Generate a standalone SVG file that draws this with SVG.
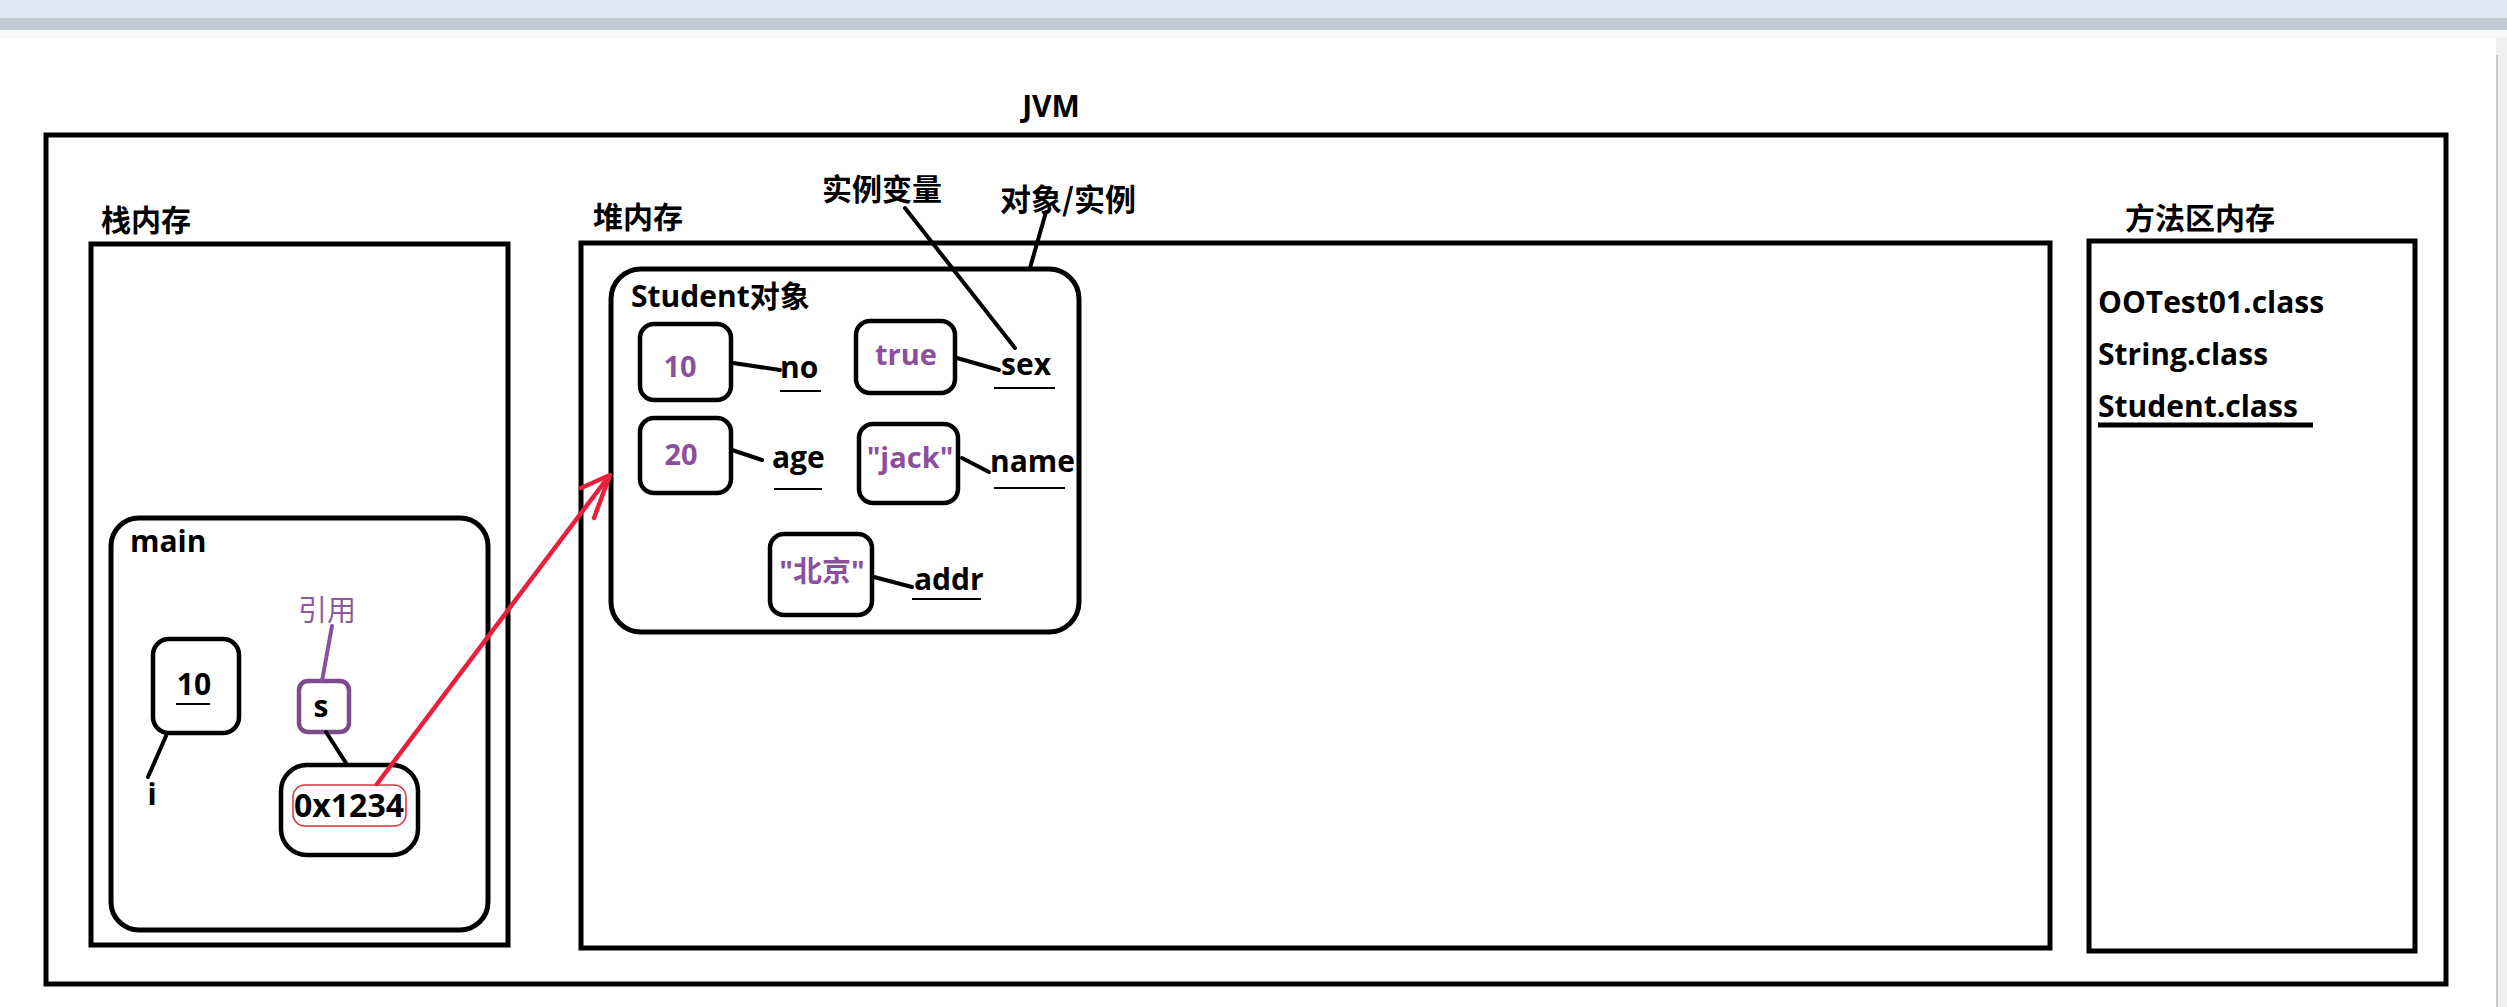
<svg xmlns="http://www.w3.org/2000/svg" width="2507" height="1007" viewBox="0 0 2507 1007">
<style>
.box{fill:none;stroke:#000;stroke-width:5}
.fld{fill:#fff;stroke:#000;stroke-width:4.5}
.t{font-family:"Open Sans","Noto Sans CJK SC",sans-serif;font-weight:bold;font-size:30px;fill:#000}
.cjk{font-family:"Noto Sans CJK SC",sans-serif;font-weight:bold;font-size:30px;fill:#000}
.pv{font-family:"Open Sans","Noto Sans CJK SC",sans-serif;font-weight:bold;font-size:29px;fill:#8b4f9e}
.ln{stroke:#000;stroke-width:4;fill:none;stroke-linecap:round}
.ul{stroke:#000;stroke-width:2;fill:none}
</style>
<rect x="0" y="0" width="2507" height="1007" fill="#fff"/>
<g id="toolbar">
<rect x="0" y="0" width="2507" height="18" fill="#dce6f4"/>
<rect x="0" y="18" width="2507" height="12" fill="#c3c9d2"/>
<rect x="0" y="30" width="2507" height="8" fill="#f6f7f9"/>
<rect x="2496" y="38" width="11" height="969" fill="#f0f0f0"/>
<line x1="2497" y1="55" x2="2497" y2="1007" stroke="#c8c8c8" stroke-width="2"/>
</g>
<g id="jvm">
<rect class="box" x="46" y="135" width="2400" height="849"/>
<text class="t" x="1051" y="117" text-anchor="middle">JVM</text>
</g>
<g id="stack">
<rect class="box" x="91" y="244" width="417" height="701"/>
<text class="cjk" x="101" y="231">栈内存</text>
</g>
<g id="main">
<rect class="box" x="111" y="518" width="377" height="412" rx="28"/>
<text class="t" x="130" y="552">main</text>
</g>
<g id="var-i">
<rect class="fld" x="153" y="639" width="86" height="94" rx="16"/>
<text class="t" x="194" y="695" text-anchor="middle">10</text>
<line class="ul" x1="176" y1="704" x2="210" y2="704"/>
<text class="t" x="152" y="805" text-anchor="middle">i</text>
</g>
<g id="var-s">
<rect x="299" y="681" width="50" height="51" rx="9" fill="#fff" stroke="#7d4a8c" stroke-width="4.5"/>
<text class="t" x="321" y="717" text-anchor="middle">s</text>
<text x="327" y="621" text-anchor="middle" style="font-family:'Noto Sans CJK SC',sans-serif;font-weight:normal;font-size:29px;fill:#8b5a9e">引用</text>
</g>
<g id="addr-box">
<rect class="fld" x="281" y="765" width="137" height="90" rx="26"/>
<rect x="293" y="785" width="113" height="41" rx="12" fill="none" stroke="#e8283c" stroke-width="1.5"/>
<text class="t" x="349" y="817" text-anchor="middle" style="font-size:32px">0x1234</text>
</g>
<g id="heap">
<rect class="box" x="581" y="243" width="1469" height="705"/>
<text class="cjk" x="593" y="228">堆内存</text>
<text class="cjk" x="822" y="200">实例变量</text>
<text class="cjk" x="1000" y="211" style="font-size:31px">对象/实例</text>
</g>
<g id="student">
<rect class="box" x="611" y="269" width="468" height="363" rx="30"/>
<text class="t" x="631" y="307">Student对象</text>
</g>
<g id="f-no">
<rect class="fld" x="640" y="324" width="91" height="76" rx="14"/>
<text class="pv" x="680" y="377" text-anchor="middle">10</text>
<text class="t" x="780" y="378">no</text>
<line class="ul" x1="780" y1="391" x2="821" y2="391"/>
</g>
<g id="f-sex">
<rect class="fld" x="856" y="321" width="99" height="72" rx="14"/>
<text class="pv" x="906" y="365" text-anchor="middle">true</text>
<text class="t" x="1001" y="375">sex</text>
<line class="ul" x1="994" y1="388" x2="1055" y2="388"/>
</g>
<g id="f-age">
<rect class="fld" x="640" y="418" width="91" height="75" rx="14"/>
<text class="pv" x="681" y="465" text-anchor="middle">20</text>
<text class="t" x="772" y="468">age</text>
<line class="ul" x1="774" y1="489" x2="822" y2="489"/>
</g>
<g id="f-name">
<rect class="fld" x="859" y="424" width="99" height="79" rx="14"/>
<text class="pv" x="910" y="468" text-anchor="middle">"jack"</text>
<text class="t" x="990" y="472">name</text>
<line class="ul" x1="994" y1="488" x2="1065" y2="488"/>
</g>
<g id="f-addr">
<rect class="fld" x="770" y="534" width="102" height="81" rx="14"/>
<text class="pv" x="822" y="582" text-anchor="middle">"北京"</text>
<text class="t" x="914" y="590">addr</text>
<line class="ul" x1="912" y1="599" x2="981" y2="599"/>
</g>
<g id="method">
<rect class="box" x="2089" y="241" width="326" height="710"/>
<text class="cjk" x="2125" y="229">方法区内存</text>
<text class="t" x="2098" y="313">OOTest01.class</text>
<text class="t" x="2098" y="365">String.class</text>
<text class="t" x="2098" y="417">Student.class</text>
<line x1="2098" y1="425" x2="2313" y2="425" stroke="#000" stroke-width="5"/>
</g>
<g id="connectors">
<line class="ln" x1="166" y1="736" x2="148" y2="777"/>
<line x1="332" y1="626" x2="322" y2="681" stroke="#8b4f9e" stroke-width="4" stroke-linecap="round"/>
<line class="ln" x1="326" y1="732" x2="346" y2="763"/>
<line class="ln" x1="905" y1="208" x2="1015" y2="348"/>
<line class="ln" x1="1046" y1="212" x2="1030" y2="268"/>
<line class="ln" x1="733" y1="363" x2="780" y2="370"/>
<line class="ln" x1="957" y1="358" x2="999" y2="370"/>
<line class="ln" x1="732" y1="450" x2="762" y2="460"/>
<line class="ln" x1="962" y1="458" x2="989" y2="472"/>
<line class="ln" x1="874" y1="577" x2="912" y2="587"/>
<line x1="377" y1="784" x2="609" y2="476" stroke="#e8203a" stroke-width="4.5" stroke-linecap="round"/>
<polyline points="581,488 610,475 594,518" fill="none" stroke="#e8203a" stroke-width="4.5" stroke-linecap="round" stroke-linejoin="round"/>
</g>
</svg>
